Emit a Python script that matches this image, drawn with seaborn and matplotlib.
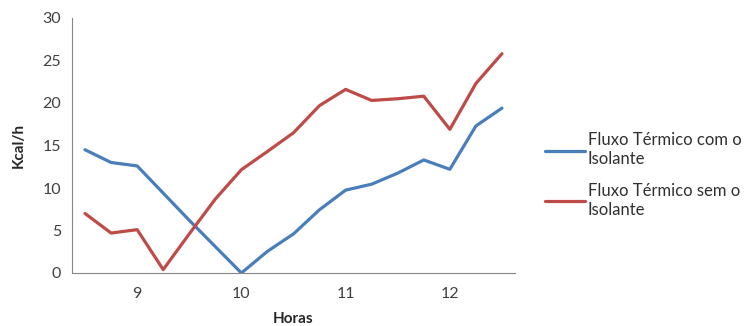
import numpy as np
import pandas as pd
import matplotlib
matplotlib.use("Agg")
import matplotlib.pyplot as plt
import seaborn as sns

# === Dados ===
horas = [8.5, 8.75, 9.0, 9.25, 9.5, 9.75, 10.0, 10.25, 10.5, 10.75,
         11.0, 11.25, 11.5, 11.75, 12.0, 12.25, 12.5]
com_isolante = [14.5, 13.0, 12.6, 9.4, 6.2, 3.1, 0.0, 2.55, 4.6, 7.45,
                9.75, 10.45, 11.75, 13.3, 12.2, 17.3, 19.4]
sem_isolante = [7.0, 4.7, 5.1, 0.4, 4.6, 8.7, 12.15, 14.3, 16.5, 19.7,
                21.6, 20.3, 20.5, 20.8, 16.9, 22.3, 25.8]
rotulos_x = [9, 10, 11, 12]
serie_com = "Fluxo Térmico com o\nIsolante"
serie_sem = "Fluxo Térmico sem o\nIsolante"

df = pd.DataFrame({"Horas": horas, serie_com: com_isolante, serie_sem: sem_isolante})
df_long = df.melt(id_vars="Horas", var_name="serie", value_name="valor")

sns.set_style("white")
plt.rcParams["font.family"] = ["Lato", "DejaVu Sans"]

PALETA = {serie_com: "#4A7EBB", serie_sem: "#BE4B48"}
CINZA = "#868686"

fig = plt.figure(figsize=(7.51, 3.26), dpi=100)
ax = fig.add_axes([72 / 751, 53 / 326, 443 / 751, 255 / 326])

sns.lineplot(data=df_long, x="Horas", y="valor", hue="serie",
             palette=PALETA, linewidth=2.3, ax=ax)

passo = 0.25
ax.set_xlim(horas[0] - passo / 2, horas[-1] + passo / 2)
ax.set_ylim(0, 30)
ax.set_yticks(range(0, 31, 5))

# marcas entre categorias (estilo Excel)
limites = np.arange(horas[0] - passo / 2, horas[-1] + passo, passo)
ax.set_xticks(limites)
ax.set_xticklabels([])
ax.set_xticks(rotulos_x, [str(r) for r in rotulos_x], minor=True)
ax.tick_params(axis="x", which="major", length=5, width=0.8, color=CINZA, direction="out")
ax.tick_params(axis="x", which="minor", length=0, pad=10, labelsize=11.5, labelcolor="#404040")
ax.tick_params(axis="y", length=5, width=0.8, color=CINZA, direction="out",
               labelsize=11.5, labelcolor="#404040", pad=3)

for lado in ["top", "right"]:
    ax.spines[lado].set_visible(False)
for lado in ["left", "bottom"]:
    ax.spines[lado].set_color(CINZA)
    ax.spines[lado].set_linewidth(0.8)

ax.set_xlabel("Horas", fontsize=11, weight="bold", labelpad=8)
ax.set_ylabel("Kcal/h", fontsize=11, weight="bold", labelpad=12)

leg = ax.legend(title="", loc="center left", bbox_to_anchor=(530 / 751, 151 / 326),
                bbox_transform=fig.transFigure, frameon=False, fontsize=12,
                handlelength=2.4, handletextpad=0.15, labelspacing=0.9)
for t in leg.get_texts():
    t.set_linespacing(1.25)
    t.set_color("#303030")

plt.savefig("out.png", dpi=100)
plt.close()
